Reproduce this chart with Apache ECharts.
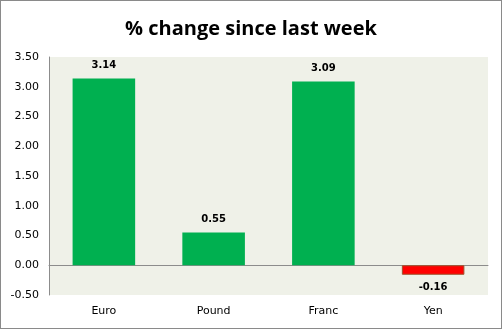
<!DOCTYPE html>
<html><head><meta charset="utf-8">
<script src="https://cdn.jsdelivr.net/npm/echarts@6/dist/echarts.min.js"></script>
<style>html,body{margin:0;padding:0;background:#fff}#c{width:502px;height:329px;box-sizing:border-box;border:1px solid #8a8a8a}</style>
</head><body><div id="c"></div>
<script>
const categories = ["Euro", "Pound", "Franc", "Yen"];
const values = [3.14, 0.55, 3.09, -0.16];
const yTicks = [-0.5, 0, 0.5, 1, 1.5, 2, 2.5, 3, 3.5];
const titleText = "% change since last week";

const chart = echarts.init(document.getElementById('c'));
chart.setOption({
  animation: false,
  backgroundColor: '#fff',
  title: {text: titleText, left: 'center', top: 13,
    textStyle: {fontFamily: 'Open Sans', fontWeight: 'bold', fontSize: 20, color: '#000'}},
  grid: {left: 48, right: 13, top: 56, bottom: 33, show: true, backgroundColor: '#eff1e8', borderWidth: 0},
  xAxis: [{type: 'category', data: categories,
    axisLine: {show: false, onZero: false}, axisTick: {show: false},
    axisLabel: {fontFamily: 'DejaVu Sans', fontSize: 11, color: '#000', margin: 11}},
   {type: 'category', data: categories, position: 'bottom',
    axisLine: {show: true, onZero: true, lineStyle: {color: '#8c8c8c'}}, axisTick: {show: false},
    axisLabel: {show: false}}],
  yAxis: {type: 'value', min: yTicks[0], max: yTicks[yTicks.length-1], interval: 0.5,
    axisLine: {show: true, lineStyle: {color: '#8c8c8c'}}, axisTick: {show: false},
    splitLine: {show: false},
    axisLabel: {fontFamily: 'DejaVu Sans', fontSize: 11, color: '#000', margin: 10,
      formatter: v => v.toFixed(2)}},
  series: [{type: 'bar', barWidth: '57%', xAxisIndex: 0,
    data: values.map(v => ({value: v,
      itemStyle: v < 0 ? {color: '#ff0000', borderColor: '#a0522d', borderWidth: 1} : {color: '#00b050'},
      label: {position: v < 0 ? 'bottom' : 'top'}})),
    label: {show: true, formatter: p => p.value.toFixed(2),
      fontFamily: 'DejaVu Sans', fontWeight: 'bold', fontSize: 10, color: '#000', distance: 8}}]
});
</script></body></html>
